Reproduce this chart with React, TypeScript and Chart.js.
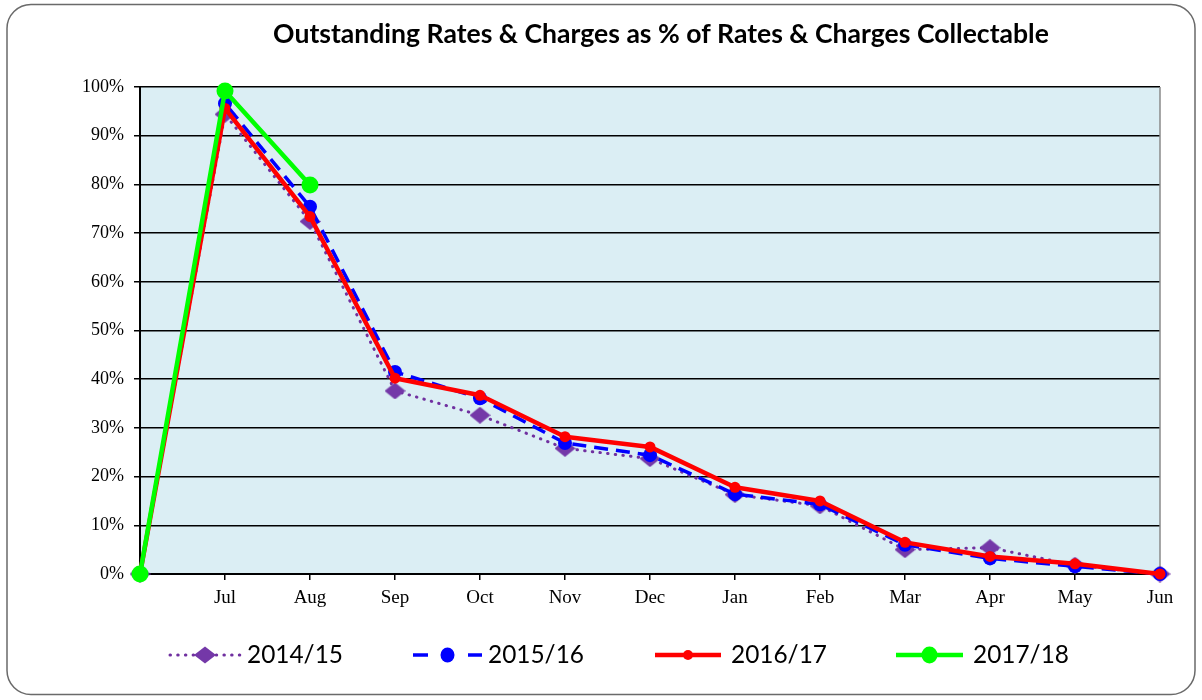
import React, { useEffect, useRef } from 'react';
import { Chart, registerables } from 'chart.js';

Chart.register(...registerables);

const chartTitle = 'Outstanding Rates & Charges as % of Rates & Charges Collectable';
const categories = ['', 'Jul', 'Aug', 'Sep', 'Oct', 'Nov', 'Dec', 'Jan', 'Feb', 'Mar', 'Apr', 'May', 'Jun'];
const seriesNames = ['2014/15', '2015/16', '2016/17', '2017/18'];
const s1415 = [0, 94.4, 72.4, 37.6, 32.6, 25.8, 23.7, 16.3, 14.0, 5.0, 5.4, 1.8, 0];
const s1516 = [0, 96.6, 75.4, 41.5, 36.1, 26.9, 24.4, 16.4, 14.3, 6.0, 3.2, 1.6, 0];
const s1617 = [0, 95.6, 73.4, 40.2, 36.7, 28.2, 26.1, 17.8, 15.0, 6.5, 3.6, 2.1, 0];
const s1718 = [0, 99.2, 79.9, null, null, null, null, null, null, null, null, null, null];
const yTicks = [0, 10, 20, 30, 40, 50, 60, 70, 80, 90, 100];

const colors = ['#7030A0', '#0000FF', '#FF0000', '#00FF00'];

function makeDiamond(w: number, h: number, color: string) {
  const c = document.createElement('canvas');
  c.width = w;
  c.height = h;
  const ctx = c.getContext('2d')!;
  ctx.fillStyle = color;
  ctx.beginPath();
  ctx.moveTo(w / 2, 0);
  ctx.lineTo(w, h / 2);
  ctx.lineTo(w / 2, h);
  ctx.lineTo(0, h / 2);
  ctx.closePath();
  ctx.fill();
  return c;
}

function fitFont(ctx: CanvasRenderingContext2D, text: string, weight: string, family: string, base: number, target: number) {
  ctx.font = `${weight} ${base}px ${family}`;
  const w = ctx.measureText(text).width;
  const size = base * target / w;
  return `${weight} ${size.toFixed(2)}px ${family}`;
}

const framePlugin = {
  id: 'frame',
  beforeDraw(chart: any) {
    const ctx = chart.ctx as CanvasRenderingContext2D;
    const { left, right, top, bottom } = chart.chartArea;
    ctx.save();
    ctx.fillStyle = '#fff';
    ctx.fillRect(0, 0, chart.width, chart.height);
    ctx.beginPath();
    (ctx as any).roundRect(7, 4.5, 1188, 690, 24);
    ctx.strokeStyle = '#6a6a6a';
    ctx.lineWidth = 1.5;
    ctx.stroke();
    ctx.fillStyle = '#DBEEF4';
    ctx.fillRect(left, top, right - left, bottom - top);
    ctx.restore();
  },
  beforeDatasetsDraw(chart: any) {
    const ctx = chart.ctx as CanvasRenderingContext2D;
    const { right, top, bottom } = chart.chartArea;
    ctx.save();
    ctx.strokeStyle = '#8a8a8a';
    ctx.lineWidth = 1.5;
    ctx.beginPath();
    ctx.moveTo(right, top);
    ctx.lineTo(right, bottom);
    ctx.stroke();
    ctx.restore();
  },
  afterDraw(chart: any) {
    const ctx = chart.ctx as CanvasRenderingContext2D;
    ctx.save();
    ctx.fillStyle = '#000';
    ctx.font = fitFont(ctx, chartTitle, 'bold', 'Lato', 21, 776);
    ctx.textAlign = 'center';
    ctx.textBaseline = 'middle';
    ctx.fillText(chartTitle, 661, 34);

    const sampleStart = [170, 413, 655, 896];
    const sampleEnd = [240, 482, 721, 963];
    const textX = [247, 488, 731, 973];
    const ly = 655;
    const legendFont = fitFont(ctx, '2014/15', 'normal', 'Lato', 24, 96);
    const markerW = [22, 14, 10, 16];
    const markerH = [17, 15, 10, 17];
    chart.data.datasets.forEach((ds: any, i: number) => {
      const x0 = sampleStart[i];
      const x1 = sampleEnd[i];
      const cx = (x0 + x1) / 2;
      ctx.save();
      ctx.strokeStyle = ds.borderColor;
      ctx.lineWidth = ds.borderWidth;
      ctx.lineCap = ds.borderCapStyle || 'butt';
      ctx.setLineDash(ds.borderDash || []);
      ctx.beginPath();
      if (i === 1) {
        ctx.setLineDash([]);
        ctx.moveTo(x0, ly); ctx.lineTo(x0 + 15, ly);
        ctx.moveTo(x1 - 14, ly); ctx.lineTo(x1, ly);
      } else {
        ctx.moveTo(x0, ly);
        ctx.lineTo(x1, ly);
      }
      ctx.stroke();
      ctx.setLineDash([]);
      ctx.fillStyle = i === 0 ? '#7438A8' : ds.pointBackgroundColor;
      ctx.beginPath();
      const w = markerW[i] / 2;
      const h = markerH[i] / 2;
      if (i === 0) {
        ctx.moveTo(cx, ly - h);
        ctx.lineTo(cx + w, ly);
        ctx.lineTo(cx, ly + h);
        ctx.lineTo(cx - w, ly);
        ctx.closePath();
      } else {
        ctx.ellipse(cx, ly, w, h, 0, 0, Math.PI * 2);
      }
      ctx.fill();
      ctx.restore();
      ctx.fillStyle = '#000';
      ctx.font = legendFont;
      ctx.textAlign = 'left';
      ctx.textBaseline = 'middle';
      ctx.fillText(ds.label, textX[i], ly);
    });
    ctx.restore();
  },
};

export default function App() {
  const ref = useRef<HTMLCanvasElement | null>(null);
  useEffect(() => {
    if (!ref.current) return;
    const serif = 'Liberation Serif';
    const diamond = makeDiamond(21, 17, '#7438A8');
    const chart = new Chart(ref.current, {
      type: 'line',
      data: {
        labels: categories,
        datasets: [
          {
            label: seriesNames[0], data: s1415, borderColor: colors[0], borderWidth: 3,
            borderDash: [0.5, 7.2], borderCapStyle: 'round', borderJoinStyle: 'round',
            pointStyle: diamond, pointRadius: 8.5, pointBackgroundColor: '#7438A8',
            pointBorderWidth: 0, order: 3, clip: false as any,
          },
          {
            label: seriesNames[1], data: s1516, borderColor: colors[1], borderWidth: 3.5,
            borderDash: [14, 8], borderJoinStyle: 'round',
            pointStyle: 'circle', pointRadius: 7, pointBackgroundColor: colors[1],
            pointBorderWidth: 0, order: 2, clip: false as any,
          },
          {
            label: seriesNames[2], data: s1617, borderColor: colors[2], borderWidth: 4.5,
            borderJoinStyle: 'round',
            pointStyle: 'circle', pointRadius: 5.5, pointBackgroundColor: colors[2],
            pointBorderWidth: 0, order: 1, clip: false as any,
          },
          {
            label: seriesNames[3], data: s1718, borderColor: colors[3], borderWidth: 4.5,
            borderJoinStyle: 'round',
            pointStyle: 'circle', pointRadius: 8.5, pointBackgroundColor: colors[3],
            pointBorderWidth: 0, order: 0, clip: false as any, spanGaps: false,
          },
        ],
      },
      options: {
        animation: false,
        responsive: false,
        events: [],
        layout: { padding: { top: 87, right: 42, bottom: 0, left: 0 } },
        plugins: {
          legend: { display: false },
          title: { display: false },
          tooltip: { enabled: false },
        },
        scales: {
          x: {
            offset: false,
            grid: { display: true, drawOnChartArea: false, drawTicks: true, tickLength: 6, color: '#000', lineWidth: 1.5 },
            border: { display: true, color: '#000', width: 2 },
            ticks: { color: '#000', font: { family: serif, size: 19 }, padding: 7, autoSkip: false, maxRotation: 0 },
            afterFit: (s: any) => { s.height = 126; },
          },
          y: {
            min: 0,
            max: 100,
            afterBuildTicks: (s: any) => { s.ticks = yTicks.map((v) => ({ value: v })); },
            grid: { color: '#000', lineWidth: 1.5, tickLength: 6, drawTicks: true },
            border: { display: true, color: '#000', width: 2 },
            ticks: { color: '#000', font: { family: serif, size: 18 }, padding: 10, callback: (v: any) => `${v}%` },
            afterFit: (s: any) => { s.width = 140; },
          },
        },
      },
      plugins: [framePlugin],
    } as any);
    return () => chart.destroy();
  }, []);
  return (
    <div style={{ position: 'absolute', left: 0, top: 0, width: 1202, height: 700, background: '#fff' }}>
      <canvas ref={ref} width={1202} height={700} style={{ display: 'block', width: 1202, height: 700 }} />
    </div>
  );
}
